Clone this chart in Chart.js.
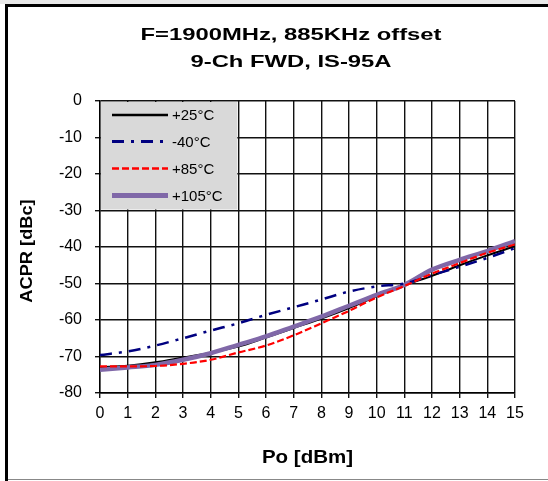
<!DOCTYPE html>
<html>
<head>
<meta charset="utf-8">
<script src="https://cdn.jsdelivr.net/npm/chart.js@4.4.1/dist/chart.umd.min.js"></script>
<style>
  html, body { margin: 0; padding: 0; background: #fff; }
  #wrap { position: relative; width: 548px; height: 481px; }
  canvas { display: block; }
</style>
</head>
<body>
<div id="wrap"><canvas id="c" width="548" height="481"></canvas></div>
<script>
// ---- data ----
const titleLines = ['F=1900MHz, 885KHz offset', '9-Ch FWD, IS-95A'];
const xTitle = 'Po [dBm]';
const yTitle = 'ACPR [dBc]';
const poValues = [0, 1, 2, 3, 4, 5, 6, 7, 8, 9, 10, 11, 12, 13, 14, 15];
const seriesLabels = ['+25°C', '-40°C', '+85°C', '+105°C'];
const acprP25  = [-72.9, -72.5, -71.6, -70.3, -69.0, -67.3, -64.8, -62.2, -59.6, -56.7, -53.5, -50.5, -47.9, -45.0, -42.3, -39.8];
const acprM40  = [-69.6, -68.6, -67.0, -65.0, -62.9, -60.9, -58.6, -56.5, -54.4, -52.2, -50.8, -50.0, -47.7, -45.4, -43.0, -40.3];
const acprP85  = [-72.7, -72.7, -72.6, -72.0, -70.9, -68.9, -67.0, -64.2, -60.9, -57.5, -53.8, -50.7, -47.3, -44.4, -41.6, -39.3];
const acprP105 = [-73.6, -73.0, -72.3, -70.9, -69.1, -66.8, -64.5, -61.8, -59.1, -56.1, -53.1, -50.4, -46.2, -43.5, -41.1, -38.4];
const xTickRange = [0, 15];
const yTickRange = [-80, 0];

const toPts = arr => poValues.map((x, i) => ({ x: x, y: arr[i] }));

const styles = [
  { color: '#000000', width: 2,   dash: [] },
  { color: '#000080', width: 2.5, dash: [12, 7, 3, 7] },
  { color: '#ff0000', width: 2.2, dash: [7, 3] },
  { color: '#8068a8', width: 4.5, dash: [] }
];
const seriesData = [acprP25, acprM40, acprP85, acprP105];
const drawOrder = [4, 2, 1, 3];

const tickFont = { family: 'Liberation Sans, Arial, sans-serif', size: 16 };

const decor = {
  id: 'decor',
  beforeDraw(chart) {
    const ctx = chart.ctx;
    ctx.save();
    ctx.fillStyle = '#fff';
    ctx.fillRect(0, 0, chart.width, chart.height);
    ctx.fillStyle = '#e8e8e8';
    ctx.fillRect(0, 0, chart.width, 4);
    ctx.restore();
  },
  afterDatasetsDraw(chart) {
    const ctx = chart.ctx;
    const a = chart.chartArea;
    const xs = chart.scales.x, ys = chart.scales.y;
    const bx0 = a.left + 1, by0 = a.top + 1;
    const bx1 = xs.getPixelForValue(5) - 1, by1 = ys.getPixelForValue(-30) - 1;
    ctx.save();
    ctx.fillStyle = '#d9d9d9';
    ctx.fillRect(bx0, by0, bx1 - bx0, by1 - by0);
    const rows = [14, 40.5, 67.5, 94.5];
    ctx.font = '15px "Liberation Sans", Arial, sans-serif';
    ctx.textBaseline = 'middle';
    ctx.textAlign = 'left';
    seriesLabels.forEach((lab, i) => {
      const y = a.top + rows[i];
      const s = styles[i];
      ctx.beginPath();
      ctx.strokeStyle = s.color;
      ctx.lineWidth = s.width + 0.3;
      ctx.setLineDash(s.dash);
      ctx.moveTo(112, y);
      ctx.lineTo(168, y);
      ctx.stroke();
      ctx.setLineDash([]);
      ctx.fillStyle = '#000';
      ctx.fillText(lab, 172, y + 1);
    });
    ctx.restore();
  },
  afterDraw(chart) {
    const ctx = chart.ctx;
    const a = chart.chartArea;
    ctx.save();
    // frame
    ctx.fillStyle = '#000';
    ctx.fillRect(5, 4, chart.width - 5, 3);
    ctx.fillRect(5, 4, 3, chart.height - 4);
    ctx.fillStyle = '#888';
    ctx.fillRect(8, 479, chart.width - 8, 1);
    // chart title
    ctx.fillStyle = '#000';
    ctx.textAlign = 'center';
    ctx.textBaseline = 'alphabetic';
    ctx.font = 'bold 17px "Liberation Sans", Arial, sans-serif';
    const tb = [39.5, 66.5];
    titleLines.forEach((t, i) => {
      ctx.save();
      ctx.translate(291, tb[i]);
      ctx.scale(1.4, 1);
      ctx.fillText(t, 0, 0);
      ctx.restore();
    });
    // x title
    ctx.save();
    ctx.font = 'bold 18px "Liberation Sans", Arial, sans-serif';
    ctx.translate((a.left + a.right) / 2, 462.5);
    ctx.scale(1.14, 1);
    ctx.fillText(xTitle, 0, 0);
    ctx.restore();
    // y title
    ctx.save();
    ctx.font = 'bold 16px "Liberation Sans", Arial, sans-serif';
    ctx.translate(32, (a.top + a.bottom) / 2 + 4);
    ctx.rotate(-Math.PI / 2);
    ctx.scale(1.14, 1);
    ctx.fillText(yTitle, 0, 0);
    ctx.restore();
    ctx.restore();
  }
};

new Chart(document.getElementById('c'), {
  type: 'line',
  data: {
    datasets: seriesLabels.map((lab, i) => ({
      label: lab,
      data: toPts(seriesData[i]),
      borderColor: styles[i].color,
      backgroundColor: styles[i].color,
      borderWidth: styles[i].width,
      borderDash: styles[i].dash,
      pointRadius: 0,
      fill: false,
      cubicInterpolationMode: 'monotone',
      order: drawOrder[i]
    }))
  },
  options: {
    responsive: false,
    animation: false,
    devicePixelRatio: 1,
    layout: { padding: { top: 101, right: 33, left: 0, bottom: 0 } },
    plugins: { legend: { display: false }, title: { display: false }, tooltip: { enabled: false } },
    scales: {
      x: {
        type: 'linear',
        min: xTickRange[0], max: xTickRange[1],
        ticks: { stepSize: 1, color: '#000', font: tickFont, padding: 6, maxRotation: 0, autoSkip: false },
        grid: { color: '#111', lineWidth: 1.4, tickLength: 5, drawTicks: true },
        border: { color: '#000', width: 1.4 },
        afterFit(s) { s.height = 88; }
      },
      y: {
        type: 'linear',
        min: yTickRange[0], max: yTickRange[1],
        ticks: { stepSize: 10, color: '#000', font: tickFont, padding: 13 },
        grid: { color: '#111', lineWidth: 1.4, tickLength: 5, drawTicks: true },
        border: { color: '#000', width: 1.4 },
        afterFit(s) { s.width = 100; }
      }
    }
  },
  plugins: [decor]
});
</script>
</body>
</html>
